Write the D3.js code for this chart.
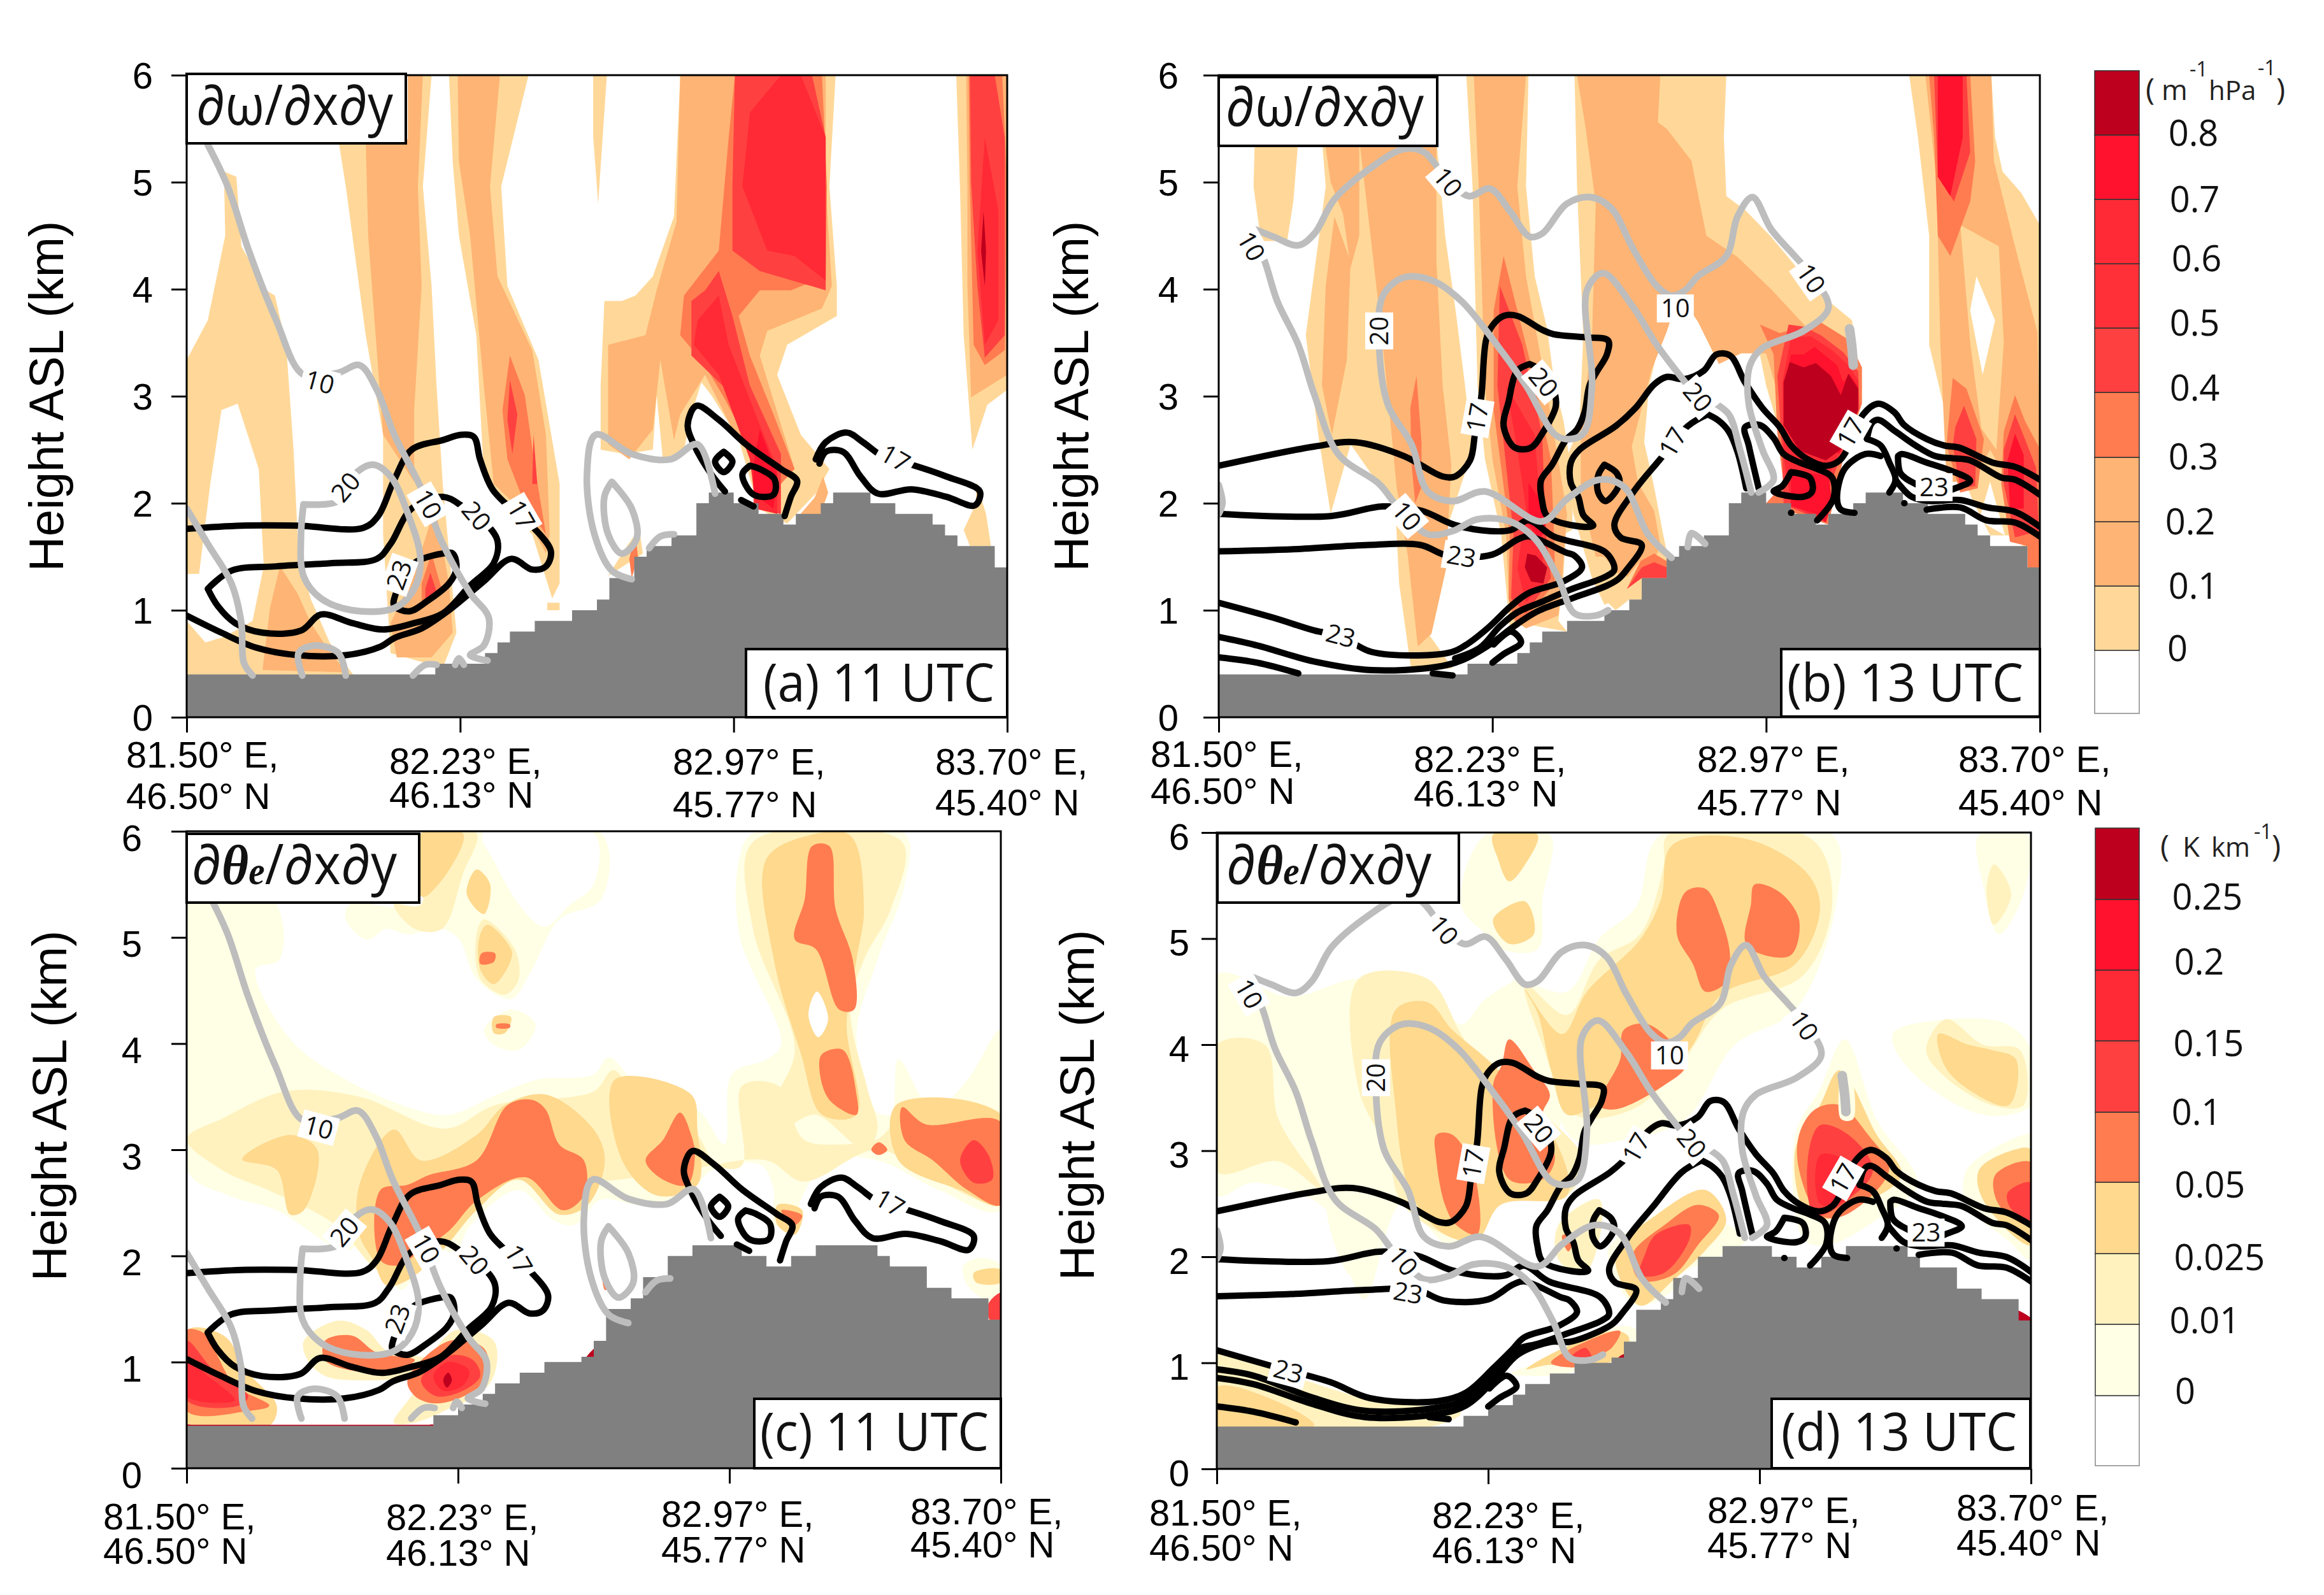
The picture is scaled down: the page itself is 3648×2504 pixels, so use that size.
<!DOCTYPE html>
<html>
<head>
<meta charset="utf-8">
<script src="https://cdn.jsdelivr.net/npm/d3@7"></script>
<style>
body { margin: 0; background: #fff; }
</style>
</head>
<body>
<svg id="chart" width="3648" height="2504"></svg>
<script>
// x unit is the grid column along the cross-section (0..66), y is height in km
const xTickCols = [0, 22, 44, 66];
const xTickLon = ["81.50\u00b0 E,", "82.23\u00b0 E,", "82.97\u00b0 E,", "83.70\u00b0 E,"];
const xTickLat = ["46.50\u00b0 N", "46.13\u00b0 N", "45.77\u00b0 N", "45.40\u00b0 N"];
const yTicks = [0, 1, 2, 3, 4, 5, 6];

const terrainUpper = [.4,.4,.4,.4,.4,.4,.4,.4,.4,.4,.4,.4,.4,.4,.4,.4,.4,.4,.4,.4,.5,.5,.5,.5,.6,.7,.8,.8,.9,.9,.9,1,1,1.1,1.3,1.3,1.5,1.6,1.6,1.7,1.7,2,2.1,2.1,2,2,1.9,1.9,1.8,1.9,1.9,2,2.1,2.1,2.1,2,2,1.9,1.9,1.9,1.8,1.7,1.6,1.6,1.6,1.4];
const terrainLower = [.4,.4,.4,.4,.4,.4,.4,.4,.4,.4,.4,.4,.4,.4,.4,.4,.4,.4,.4,.4,.5,.5,.6,.6,.7,.8,.8,.9,.9,1,1,1,1.05,1.2,1.5,1.5,1.6,1.8,1.8,2,2,2.1,2.1,2.1,2.1,2,2,1.9,1.9,2,2,2.1,2.1,2.1,2.1,2.1,2,1.9,1.9,1.9,1.7,1.7,1.6,1.6,1.6,1.4];

const omegaLevels = [0, .1, .2, .3, .4, .5, .6, .7, .8];
const omegaColors = ["#ffffff", "#ffd899", "#feb474", "#feb474", "#ff7c50", "#ff4040", "#ff3038", "#ff2a35", "#ff122d", "#bd001e"];
const omegaLabels = ["0", "0.1", "0.2", "0.3", "0.4", "0.5", "0.6", "0.7", "0.8"];
const thetaLevels = [0, .01, .025, .05, .1, .15, .2, .25];
const thetaColors = ["#ffffff", "#ffffe5", "#fff2bf", "#fed98e", "#ff7c50", "#ff4040", "#ff2a35", "#ff122d", "#bd001e"];
const thetaLabels = ["0", "0.01", "0.025", "0.05", "0.1", "0.15", "0.2", "0.25"];

// filled regions: [lower bound of the class, outline]; -1 paints a hole
const omega11Fill = [
  [0, [[0,3.34],[1.7,3.71],[3.1,4.5],[3,5.1],[4,5.05],[4.4,4.4],[6.4,3.99],[7.1,3.94],[8,3.48],[8.6,2.5],[9,1.5],[10,1.1],[11.5,.7],[14,.3],[0,.3]]],
  [-1, [[0,1.34],[1,1.34],[1.9,2.18],[2.8,2.87],[4.1,2.93],[5.8,2.32],[6.2,1.41],[5.3,.9],[3,.75],[1.5,.7],[0,.9]]],
  [.1, [[7.5,1.41],[8.9,1.16],[10,.88],[11,.7],[12.8,.42],[6.1,.44],[6.7,1.02]]],
  [0, [[17.8,6],[19.7,6],[19,4.96],[19.7,4.03],[20.1,3.1],[20.6,2.18],[21.7,.79],[20.6,.46],[16.4,.6],[15.8,1.71],[15.8,2.64],[14.4,3.57],[12.8,4.96],[12.2,5.4],[17.8,5.4]]],
  [.1, [[14.4,5.4],[17.8,5.4],[17.8,6],[19,6],[18.6,4.96],[18.9,4.03],[18.3,2.87],[18.3,2.2],[15.8,2.64],[15.2,3.57],[14.6,4.5]]],
  [.1, [[20,1.97],[21.1,1.25],[21.4,.79],[19.7,.56],[16.9,.56],[16.4,.88],[18.3,1.34]]],
  [.3, [[19.7,1.53],[20.6,1.16],[18.9,1.02],[18.9,1.25]]],
  [.4, [[19.6,1.35],[20.2,1.14],[19.2,1.06],[19.2,1.2]]],
  [0, [[21.1,6],[27.5,6],[25.3,4.96],[25.8,4.03],[28.3,3.34],[30,2.18],[30,1.25],[29.4,1.11],[27.8,1.71],[25.6,1.95],[23.9,2.27],[23.3,3.57],[21.9,4.5],[21.4,5.19]]],
  [.1, [[21.8,6],[25.2,6],[24.4,4.96],[25,4.12],[27.8,3.43],[28.9,2.64],[29.2,1.71],[28.9,1.53],[27.2,1.9],[24.7,2.18],[23.9,3.1],[22.8,4.5],[21.9,5.19]]],
  [.3, [[26,3.38],[27.2,3.01],[28.1,2.27],[28.9,1.71],[27.2,1.99],[25.8,2.41],[25.4,2.87]]],
  [.4, [[26,3.15],[26.6,2.83],[26.2,2.46],[25.8,2.78]]],
  [.4, [[27.9,2.64],[28.2,2.18],[27.8,2.18]]],
  [0, [[29,1.07],[30,1.07],[30,1],[29,1]]],
  [0, [[32.7,6],[33.8,6],[33.1,4.8],[32.7,5.42]]],
  [0, [[39.7,6],[52.2,6],[51.7,4.96],[52.3,4.03],[52.3,3.75],[48.3,3.48],[47.5,3.2],[49.4,2.64],[51.7,2.32],[50.6,2.09],[48.3,1.81],[46,1.95],[44.4,2.6],[42.2,3.01],[41.4,3.13],[40.6,2.83],[40,2.5],[38.3,2.41],[37.8,3.01],[37.5,2.5],[35.3,2.46],[33.3,2.5],[33.3,3.1],[33.6,3.89],[35,3.89],[36.1,3.94],[37.5,4.12],[39.2,4.68]]],
  [.1, [[39.7,6],[51.4,6],[51.4,4.96],[51.9,4.03],[51.1,3.82],[46.7,3.61],[46.1,3.38],[48.9,2.32],[46.1,2.32],[43.9,2.69],[41.7,3.2],[39.7,2.83],[39.2,2.59],[38.1,3.34],[37.5,2.69],[35.6,2.41],[33.9,2.55],[33.9,3.48],[36.9,3.57],[37.8,3.99],[39.4,4.63]]],
  [.3, [[44.1,6],[51.1,6],[51.5,4.96],[51.4,4.12],[48.6,3.99],[46.1,3.99],[44.4,3.75],[45.3,3.38],[47.2,2.83],[48.9,2.32],[47.8,2.18],[45.6,2.46],[43.3,2.97],[41.7,3.29],[39.7,3.57],[40,3.94],[42.8,4.36],[43.6,5.42]]],
  [.4, [[44.1,6],[50.3,6],[51.4,5.42],[51.4,3.99],[46.1,4.17],[43.9,4.36],[43.9,4.96]]],
  [.6, [[45.3,5.65],[47.8,6],[49.4,6],[51.4,5.42],[51.4,4.08],[48.9,4.31],[46.7,4.36],[44.7,4.96]]],
  [.4, [[42.8,4.17],[43.9,3.75],[45.3,3.1],[47.8,2.46],[47.8,1.9],[45.6,1.95],[45.6,2.5],[43.9,3.01],[40.6,3.38],[40.6,3.89],[41.7,3.99]]],
  [.6, [[42.8,3.94],[43.6,3.48],[46.1,2.73],[47.5,2.32],[47.5,1.9],[45.8,1.95],[45.3,2.41],[42.8,3.2],[40.8,3.48],[41.1,3.71]]],
  [.7, [[46.1,2.69],[47.5,2.27],[47.2,1.95],[45.6,2.09],[45.6,2.36]]],
  [.1, [[49,1.85],[50.5,2.05],[51.2,2.25],[51.6,2.1],[51,1.9]]],
  [0, [[33.9,1.32],[35.3,1.58],[36.4,1.76],[36.7,1.53]]],
  [.3, [[35.6,1.48],[36.1,1.71],[36.3,1.5],[35.8,1.3]]],
  [0, [[61.9,6],[66,6],[66,3.06],[64.4,2.92],[63.2,2.5],[62.5,3.57],[62.2,4.96]]],
  [.1, [[62.7,6],[66,6],[66,3.2],[63.1,2.99],[62.8,4.03],[62.8,4.96]]],
  [.3, [[62.9,6],[65.6,6],[66,4.96],[65.8,3.43],[64.2,3.29],[63.3,3.48],[63,4.96]]],
  [.4, [[63,6],[65,6],[65.8,5.42],[65.8,3.57],[64.2,3.36],[63.6,4.03],[63.1,5]]],
  [.6, [[64.2,5.42],[65.3,4.73],[65.3,3.71],[64.2,3.48],[63.6,4.36]]],
  [.8, [[64.1,4.73],[64.3,4.36],[64.2,4.03],[63.9,4.36]]],
  [0, [[63.5,2.2],[64.3,1.9],[64.7,1.6],[63,1.6],[62.5,1.75],[63.5,2]]]
];

const omega13Fill = [
  [0, [[2.9,5.4],[6.4,5.4],[6,4.82],[5.5,4.45],[3.4,4.45],[2.8,4.96]]],
  [0, [[8.3,5.4],[17.5,5.4],[18.2,4.5],[19.1,3.75],[19.8,3.1],[20.4,2.5],[18.2,1.71],[16.8,.79],[18.8,.46],[15.5,.42],[14.5,1.25],[14.2,1.95],[10.6,2.55],[9,1.9],[8,2.64],[7,3.57],[8.6,4.96]]],
  [.1, [[11.3,5.4],[17.5,5.4],[17.5,4.26],[18,3.1],[18.7,2.36],[18.5,1.93],[18.3,1.4],[17.1,.78],[16,.66],[15.2,1.51],[14.3,2.15],[13.6,3],[13,3.7],[12.2,4.5]]],
  [.1, [[8.5,5.4],[11.3,5.4],[11.3,4.5],[10.6,4.2],[10,4.7],[9,5]]],
  [.1, [[9.3,4.68],[10.6,4.26],[10.3,3.34],[9.1,2.64],[8.3,3.1],[8.6,4.03]]],
  [.3, [[15.9,3.19],[16.3,2.57],[16.3,2.15],[15.8,2],[15.5,2.36],[15.4,2.89]]],
  [0, [[19.9,6],[24.9,6],[24.7,4.96],[25.4,4.12],[26.4,3.63],[27,3.1],[27.7,2.78],[28.5,2.2],[28.4,1.75],[27.9,1.72],[27.7,1.3],[27.3,.9],[28,.8],[24.6,.87],[23.4,.83],[22.7,1.71],[21.4,2.41],[20.8,3.1],[20.4,4.96]]],
  [.1, [[20.5,6],[24.7,6],[24,4.96],[24.7,4.12],[26.3,3.1],[28,1.9],[27.6,1.3],[27.3,.95],[24.7,.83],[23.4,.93],[23.1,1.71],[22,2.41],[21.4,3.1],[20.9,4.96]]],
  [.3, [[22.9,4.31],[23.7,3.94],[25,3.34],[26.7,2.41],[27,1.58],[27,1.25],[24,.83],[23.3,1.11],[23.4,1.71],[22.1,2.87],[22.1,3.8]]],
  [.4, [[22.6,4.03],[24.4,3.48],[26,2.64],[26.3,1.71],[26.7,1.3],[24.7,.97],[23.5,1.11],[23.7,1.71],[22.4,3.1]]],
  [.6, [[23.1,3.1],[25.4,2.64],[26,1.71],[26.1,1.25],[24.7,1.07],[24,1.39],[24.7,1.95],[24,2.5]]],
  [.7, [[24.9,2.19],[26.4,1.93],[26.2,1.72],[25.7,1.68],[24.9,1.8]]],
  [.8, [[24.8,1.53],[25.5,1.51],[26.4,1.4],[26.1,1.25],[25.1,1.27],[24.6,1.4]]],
  [0, [[28.6,6],[40.8,6],[40.6,5.42],[40.8,4.87],[42.4,4.73],[44.4,4.49],[46.7,4.17],[49,3.89],[50.9,3.71],[51.7,3.1],[51,2.6],[49,2.2],[46,2.3],[44,3.1],[43.3,3.5],[42,3.6],[40.4,3.61],[38.5,3.94],[37,4.2],[36.8,4.4],[36.5,3.85],[35.7,3.63],[34.6,3.1],[34.2,2.57],[35,2.15],[35.7,1.72],[36.1,1.5],[34.5,1.1],[32,1.1],[31,1.05],[30,1.3],[28.5,1.9],[27.9,2.4],[29,2.73],[29.3,3.57],[28.8,4.96]]],
  [.1, [[28.8,6],[35.5,6],[35.3,5.56],[36,5.5],[38,5.2],[38.5,4.9],[39.2,4.5],[41.7,4.3],[44.4,4],[46,3.8],[48,3.55],[50,3.5],[51,3],[50.5,2.6],[46,2.6],[44,3.4],[42,3.4],[40.2,3.3],[38.5,3.7],[37,3.95],[36,3.6],[34.8,3.25],[33.2,2.53],[33.7,2.19],[35,1.93],[35.5,1.61],[34.3,1.25],[32,1.35],[31,1.5],[30.3,1.5],[29.1,2.1],[29.1,2.7],[30,3.5],[30.3,4.8],[29.5,5.5]]],
  [0, [[31.2,1.08],[33.9,1.46],[36.1,1.5],[36,1.3],[33,1.1],[31.9,1]]],
  [.3, [[33.9,1.46],[35,1.53],[36,1.46],[36,1.3],[34,1.3],[32.8,1.2]]],
  [.4, [[34,1.4],[35,1.45],[36,1.4],[36,1.3],[34,1.3],[32.8,1.2]]],
  [.3, [[43.5,3.67],[45.1,3.59],[48.4,3.69],[50.6,3.53],[51.7,3.27],[51.7,2.93],[50.2,2.42],[49,1.8],[44,2],[45.4,2.18],[44.9,2.65],[44.6,3.39]]],
  [.4, [[45.8,3.67],[47,3.65],[48.4,3.57],[50.2,3.41],[51.4,3.23],[51.5,2.89],[50,2.44],[49.2,2.18],[48.8,1.82],[45.4,1.99],[45.3,2.45],[44.9,3.19]]],
  [.6, [[46,3.55],[47.6,3.56],[49.3,3.43],[50.6,3.29],[51.4,3.15],[51.4,2.87],[49.2,2.3],[48.8,1.82],[46,1.99],[45.4,2.44],[45.3,3.13]]],
  [.7, [[46,3.39],[47,3.39],[47.9,3.46],[49.7,3.29],[50.2,3.13],[50.7,3.21],[51.4,3.09],[51.4,2.87],[49.9,2.46],[45.4,2.73],[45.5,3.13]]],
  [.8, [[45.9,3.32],[47,3.27],[48,3.31],[49.2,3.19],[50,3.01],[50.6,3.21],[51.4,3.07],[51.4,2.87],[50.2,2.52],[48.8,2.4],[46.7,2.49],[45.4,2.73],[45.4,3.13]]],
  [.7, [[46,2.3],[49,2.26],[49.3,2.02],[48.8,1.82],[48.1,1.9],[46,1.97]]],
  [0, [[55.5,6],[66,6],[66,1.39],[64,1.7],[62,1.7],[60.7,2],[59.4,2.36],[57.1,3.48],[57.1,4.5],[56.2,5.42]]],
  [-1, [[62.1,6],[62.4,5.42],[63,5.1],[64.5,4.9],[66,4.6],[66,6]]],
  [.1, [[56.8,6],[62.1,6],[62.3,5.2],[64,4.4],[65.8,3.6],[66,2.5],[66,1.6],[65.5,1.6],[64,1.75],[63.5,2.2],[62,2.5],[60.5,2.2],[58.5,2.2],[58,3.5],[57.7,5]]],
  [0, [[59.6,4.6],[62.7,4.4],[63.1,3.5],[62.5,2.5],[61.3,2.7],[60.4,3.5]]],
  [-1, [[60.9,4.12],[62.4,3.71],[61.4,3.2],[60.4,3.8]]],
  [-1, [[62,2.2],[63.2,1.7],[61.1,1.84]]],
  [.3, [[57.1,6],[60.4,6],[60.8,5.19],[60.4,4.82],[59.4,4.5],[58.8,4.31],[57.8,4.5],[57.5,5.42]]],
  [.4, [[57.5,6],[60.1,6],[60.4,5.28],[59.1,4.82],[57.8,5.05]]],
  [.7, [[57.8,6],[59.8,6],[59.8,5.42],[58.8,4.87],[57.8,5.05]]],
  [.3, [[59,3.17],[60.1,3.07],[61.5,2.6],[61,2.14],[59.6,2.1],[58.5,2.54],[58.8,2.93]]],
  [.4, [[59.9,2.91],[60.9,2.6],[60.8,2.16],[59.6,2.14],[59,2.54],[59.2,2.71]]],
  [.3, [[64,3.01],[64.8,2.77],[65.9,2.53],[66,1.39],[65,1.4],[65,1.6],[63.6,1.64],[62.9,2.18],[63.1,2.67]]],
  [.4, [[64,2.83],[64.8,2.6],[65.7,2.33],[65.9,1.74],[64,1.68],[63.1,2.18],[63.1,2.5]]],
  [.7, [[64,2.65],[64.7,2.45],[64.7,1.95],[63.6,1.95],[63.4,2.4]]]
];

const theta11Fill = [
  [0, [[0,5.98],[7.3,5.31],[7.5,4.79],[5.6,4.7],[8.4,4.04],[12.9,3.66],[18.5,3.38],[21.3,3.33],[25.2,3.52],[28.4,3.66],[33,3.71],[34.2,3.87],[36.9,3.57],[41.4,3.38],[43.6,3.05],[44.2,3.71],[47,3.85],[48.2,3.99],[44.8,5.03],[44.8,5.74],[45.9,5.98],[58.2,5.98],[58.2,5.5],[56,4.79],[54.3,4.09],[55.7,3.38],[57.1,3.33],[57.7,3.85],[60.5,3.38],[63.3,3.66],[66,4.13],[66,2.43],[61,2.62],[56,2.9],[52,2.9],[49.8,2.53],[49.3,2.34],[47.6,2.29],[47.6,2.62],[46.5,2.86],[42.6,2.81],[40.9,2.62],[37,2.48],[33.6,2.53],[31.4,2.29],[29.7,2.34],[26.9,2.62],[23,2.29],[21.8,2.05],[19.6,2.05],[17.4,1.68],[14.6,2.15],[12.9,2.05],[7.3,2.43],[3.4,2.57],[0,2.81]]],
  [.01, [[0,3.1],[3,3.3],[8,3.55],[14,3.5],[21,3.2],[25,3.42],[33,3.55],[34.6,3.75],[37,3.4],[41,3.2],[43,2.85],[45,2.85],[45,3.6],[48,3.6],[50,3.1],[53,3.05],[56,3.1],[58,3.3],[60,3.2],[66,3.35],[66,2.5],[61,2.7],[56,3],[50,2.7],[47,2.9],[40,2.8],[33,2.7],[27,2.75],[19,2.2],[16,1.85],[12,2.3],[7,2.6],[3,2.8]]],
  [.025, [[4.5,2.91],[8.4,3.14],[10.6,3],[9.5,2.43],[8.4,2.39],[7.3,2.81]]],
  [.025, [[14,2.2],[14,2.67],[16.8,3.19],[19,2.9],[23.5,3.14],[25.8,3.42],[29.1,3.52],[33,3.19],[33.9,2.9],[32.5,2.48],[30.2,2.39],[26.9,2.72],[23.5,2.43],[20.7,2.05],[17.9,1.77],[16.2,1.72],[15.1,1.96]]],
  [.05, [[19.6,2.76],[23.5,2.9],[26,3.42],[28,3.47],[29.1,3.38],[30.2,3.05],[32.2,2.9],[32.2,2.57],[30.5,2.43],[27.5,2.74],[23.5,2.52],[21.3,2.24],[19,2.05],[17.1,1.91],[15.7,1.96],[15.7,2.62],[17.9,2.67]]],
  [.025, [[34.7,3.66],[40.9,3.52],[41.4,3.19],[41.4,2.67],[38.1,2.57],[35.3,2.9]]],
  [.05, [[40,3.35],[40.9,3.14],[41.2,2.95],[40.6,2.67],[38.6,2.72],[37.2,2.9],[38.6,3.09]]],
  [0, [[13.2,5.31],[19,5.31],[19,5.98],[33.6,5.98],[33.6,5.36],[30.2,5.17],[28,4.7],[26.3,4.42],[23.5,4.61],[22.1,4.98],[20.7,5.08],[17.9,5.03],[16.2,5.08],[14.6,4.98],[12.9,5.17]]],
  [-1, [[24,5.98],[33,5.98],[33,5.5],[31,5.3],[29,5.1],[27,5.3],[25,5.7]]],
  [.01, [[19,5.98],[23.5,5.98],[22.4,5.6],[20.7,5.08],[18.5,5.08],[16.8,5.31],[19,5.31]]],
  [.025, [[19,5.98],[22.4,5.98],[21.3,5.64],[19.1,5.38]]],
  [.025, [[23.5,5.64],[24.6,5.5],[24.1,5.22],[22.7,5.41]]],
  [.01, [[24.1,5.17],[26.6,4.89],[26.9,4.6],[25.8,4.46],[23.8,4.61],[23.5,5.03]]],
  [.025, [[24.4,5.12],[26.3,4.89],[26.3,4.79],[24.9,4.56],[23.8,4.7],[23.8,5.03]]],
  [.05, [[23.9,4.85],[25,4.85],[24.9,4.77],[23.8,4.75]]],
  [0, [[24.1,4.13],[26.3,4.32],[28.3,4.18],[26.9,3.94],[24.9,3.99]]],
  [.025, [[24.9,4.25],[26.3,4.25],[25.8,4.1],[24.9,4.1]]],
  [.05, [[25.1,4.18],[26.2,4.18],[26.2,4.15],[25.1,4.15]]],
  [.01, [[45.9,5.9],[58,5.9],[57.1,5.27],[54.9,4.79],[53.8,4.32],[55.2,3.57],[56,3.19],[55,3],[51,3.33],[48.7,3.24],[47.6,3.4],[49.3,3.94],[45.9,5.08]]],
  [.025, [[47,5.74],[50.4,5.96],[53.8,5.96],[54.9,5.27],[54.3,4.79],[53.5,4.18],[54.3,3.33],[51.5,3.33],[49.8,3.9],[47.6,4.79]]],
  [.05, [[50.7,5.86],[52.1,5.86],[52.6,5.27],[54,4.79],[54.1,4.32],[52.9,4.32],[51,4.89],[49.3,4.98],[50.1,5.36]]],
  [.05, [[51.5,3.9],[53.2,3.94],[54.3,3.52],[54.3,3.33],[52.1,3.47],[51.3,3.75]]],
  [-1, [[51.1,4.49],[52,4.23],[51.2,4.06],[50.4,4.27]]],
  [.025, [[57.5,3.42],[66,3.33],[66,2.48],[62.7,2.62],[57.7,2.9]]],
  [.05, [[58,3.4],[59.9,3.24],[66,3.26],[66,2.48],[63.3,2.62],[60.5,2.9],[58.2,3.09]]],
  [.1, [[63.8,3.09],[65,2.95],[65.3,2.72],[63.8,2.69],[62.7,2.9]]],
  [.05, [[56.1,3.07],[56.8,3],[56.1,2.95],[55.5,3]]],
  [.025, [[47.9,2.48],[49.9,2.43],[49.3,2.2],[47.9,2.29]]],
  [.05, [[48.2,2.43],[49.9,2.38],[49.3,2.29]]],
  [0, [[63,1.91],[64.4,1.98],[66,1.91],[66,1.53],[63.3,1.72]]],
  [.025, [[63.8,1.84],[66,1.87],[66,1.75],[64,1.75]]],
  [.1, [[65,1.55],[66,1.65],[66,1.4],[65.1,1.4]]],
  [.025, [[0,1.3],[3,1.25],[5,.9],[7.3,.59],[6.7,.4],[0,.4]]],
  [.05, [[0,1.3],[1.7,1.25],[2.5,1.06],[3.9,.78],[6.7,.59],[5,.54],[0,.54]]],
  [.1, [[0,1.2],[2.2,.92],[5,.68],[4.2,.59],[0,.64]]],
  [.15, [[0,1.01],[1.7,.87],[3.9,.64],[0,.68]]],
  [.01, [[9.5,1.2],[12.3,1.39],[14.6,1.3],[16.2,1.11],[19.6,1.02],[17.9,.87],[13.4,.83],[11.2,.87],[9.8,1.02]]],
  [.05, [[11.2,1.2],[13.4,1.25],[15.4,1.09],[18.5,1.02],[16.8,.92],[13.4,.92],[11.2,1.02]]],
  [.01, [[21.8,1.3],[24.9,1.2],[24.9,.87],[23.5,.68],[21.8,.59],[18.5,.43],[16.8,.43],[18.5,.73],[19.6,1.02]]],
  [.05, [[21.3,1.2],[24.1,1.13],[24.4,.87],[23,.71],[20.2,.61],[18.5,.68],[17.9,.83]]],
  [.1, [[21.3,1.06],[23.2,1.02],[23.8,.87],[22.4,.73],[20.2,.68],[19,.83]]],
  [.15, [[21.2,1],[22.9,.92],[22.4,.78],[20.8,.73],[20,.87]]],
  [.25, [[21.2,.9],[21.5,.83],[21.1,.76],[20.8,.83]]],
  [.25, [[32.2,1],[33.9,1.2],[33.9,1]]],
  [.25, [[0,.41],[.5,.41],[19.5,.41],[20,.41],[20,.39],[19.5,.39],[.5,.39],[0,.39]]],
  [.05, [[33.7,1.84],[34.3,1.7],[33.9,1.68]]]
];

const theta13Fill = [
  [0, [[0,4.66],[5.9,4.45],[11.2,4.62],[17.1,4.57],[19.8,4.19],[21.8,4.43],[24.8,4.6],[26,4.2],[28,3.4],[26,2.75],[22,2.45],[19,2.1],[15,2.5],[12,1.6],[10.8,1.83],[8.9,2.44],[3,2.7],[0,2.58]]],
  [.01, [[0,4],[3.9,4],[5,3.3],[8.5,2.63],[5,2.9],[0,2.8]]],
  [0, [[21.8,5.98],[27,5.98],[26.4,5.37],[26,4.9],[23.1,4.9],[21.8,5.04],[19.8,5.32]]],
  [.025, [[22.4,5.98],[26,5.98],[25,5.7],[23.7,5.54],[22.8,5.75]]],
  [.025, [[22.4,5.18],[25,5.35],[25.7,5.04],[23.7,4.95]]],
  [0, [[36,5.98],[49.9,5.98],[50.2,5.32],[46.9,4.33],[42,4],[38,3.3],[33,3.1],[29,3.1],[26,4],[24,4.6],[28.4,4.5],[31,5],[34,5.3]]],
  [.01, [[36.6,5.98],[48.2,5.94],[49.9,5.37],[47.6,4.66],[40.9,4.33],[37.6,3.81],[33.7,3.39],[29,3.34],[26.4,4],[25,4.57],[28.4,4.28],[31,4.8],[34.3,5.04],[36.2,5.67]]],
  [.025, [[36.9,5.88],[42.9,5.94],[47.9,5.61],[48.9,5.28],[46.9,4.76],[40.9,4.47],[38.3,3.95],[33.7,3.48],[31,3.43],[28.4,3.34],[27.1,3.76],[26,4.3],[25,4.52],[28,4.1],[30,4.5],[34.3,4.99],[36,5.37]]],
  [.05, [[38,5.44],[39.6,5.47],[40.9,5.18],[41.6,4.85],[41.3,4.59],[39.6,4.5],[38.6,4.76],[37.3,5.04]]],
  [.05, [[43.6,5.51],[45.6,5.44],[47.2,5.18],[46.6,4.85],[44.9,4.83],[42.9,4.95],[43.3,5.32]]],
  [.05, [[33,4.14],[35,4.19],[38,3.81],[36.3,3.62],[32.3,3.39],[31,3.43],[32.7,3.86]]],
  [.01, [[11.5,4.62],[17.1,4.62],[19.8,4.1],[22,3.7],[27,3.29],[29.7,2.91],[28.4,2.58],[23,2.49],[20.4,2.16],[15.1,2.49],[13.8,3.01],[11.5,3.58]]],
  [.025, [[14.5,4.33],[17.1,4.4],[19.1,4.14],[22.4,3.81],[27,3.2],[28.4,2.58],[23,2.49],[21.1,2.16],[18.5,2.21],[15.8,2.58],[14.5,3.39]]],
  [.05, [[17.8,3.15],[19.1,3.15],[20.8,2.82],[21.1,2.21],[19.4,2.3],[18.5,2.49],[17.8,2.91]]],
  [.05, [[23.7,4.05],[25.7,3.76],[27,3.53],[26.4,3.34],[27.4,2.91],[26.4,2.73],[23.7,2.73],[22.4,3.62],[23.1,3.81]]],
  [0, [[39,2.58],[40.9,2.35],[42.9,2.16],[37.6,1.83],[37,1.69],[34,1.54],[31.7,2.06],[34.3,2.3]]],
  [.025, [[39.6,2.63],[41.3,2.35],[39.6,2.06],[37,1.78],[34.3,1.54],[32.3,2.02],[35.6,2.39]]],
  [.05, [[39,2.49],[40.7,2.39],[39,2.11],[37,1.83],[34.3,1.78],[33.7,2.02],[36.3,2.3]]],
  [.1, [[35.6,2.21],[38.3,2.3],[38.3,2.16],[36.3,1.85],[34.3,1.83],[34.7,2.02]]],
  [0, [[50.9,4.05],[53.5,3.29],[56.8,2.68],[53.5,2.35],[49.5,2.11],[47.6,2.16],[46.9,3.15],[48.9,3.58]]],
  [.025, [[50.5,3.76],[53.5,3.15],[55.5,2.77],[52.2,2.49],[48.9,2.35],[47.6,2.44],[46.9,3.01],[48.9,3.43]]],
  [.05, [[50.5,3.43],[52.8,3.15],[54.5,2.82],[50.9,2.39],[48.9,2.39],[47.2,2.82],[47.2,3.15],[48.5,3.39]]],
  [.1, [[48.9,3.24],[51.2,3.15],[53.2,2.82],[51.2,2.54],[48.5,2.39],[47.9,2.91]]],
  [.15, [[48.9,2.96],[50.9,2.91],[51.9,2.68],[50.5,2.5],[48.9,2.5]]],
  [0, [[54.8,4.1],[59.5,4.24],[64.1,4.19],[66,3.95],[66,3.43],[62.1,3.34],[56.2,3.76]]],
  [.01, [[57.5,3.95],[59.1,4.24],[62.1,4],[65.1,3.95],[65.4,3.43],[62.8,3.43],[58.8,3.72]]],
  [.025, [[58.5,4.1],[60.9,4],[62.8,3.95],[64.8,3.86],[64.2,3.43],[60.9,3.58],[59,3.8]]],
  [0, [[61.8,5.98],[65.7,5.98],[65.4,5.42],[63.4,5.04],[62.1,5.51]]],
  [.01, [[63,5.7],[64.4,5.42],[63,5.13],[62.4,5.46]]],
  [0, [[60.8,2.82],[65.4,3.15],[66,3.15],[66,1.97],[64.1,2.16],[60.8,2.49]]],
  [.025, [[61.8,2.82],[64.7,3.01],[66,3.01],[66,2.11],[62.1,2.54]]],
  [.05, [[63.1,2.77],[66,2.89],[66,2.3],[63.4,2.49]]],
  [.1, [[64.1,2.6],[66,2.7],[66,2.35],[64.4,2.45]]],
  [.01, [[0,1.07],[5.9,.88],[12.5,.65],[19.8,.53],[17.8,.41],[0,.41]]],
  [.025, [[0,.77],[4.6,.65],[7.9,.41],[0,.41]]],
  [0, [[23.9,.9],[27.1,1.04],[32.4,1.34],[33.9,1.32],[33.9,1.18],[32.9,1.04],[29.1,.92],[26.9,.88]]],
  [.025, [[25.1,.94],[28.5,1.16],[32.4,1.3],[33.4,1.24],[32.9,1.06],[29.1,.96],[26.9,.98]]],
  [.05, [[27.1,1],[28.8,1.14],[32.7,1.3],[32,1.14],[30.4,1.04],[29.1,.96]]],
  [.1, [[28.8,1.06],[29.9,1.14],[30.4,1.04],[29.9,1.02]]],
  [.25, [[32.5,1.04],[33,1.08],[33,1.03]]],
  [.25, [[33.5,1.12],[33.9,1.18],[33.9,1.1]]],
  [.01, [[27.7,2.3],[31,2.54],[31,2.16],[29.7,1.83],[27.7,1.97]]],
  [.05, [[28,2.2],[29,2.2],[28.5,2.05]]],
  [0, [[10,3.08],[11.5,2.49],[10.8,1.83],[8.9,2.44]]],
  [0, [[51,4.05],[51.6,3.3],[50.6,3.3]]],
  [.25, [[64.7,1.5],[66,1.42],[66,1.4],[65,1.4]]]
];

// isotach lines, black then grey, shared by the two panels of the same hour
const black11 = [
  [[0,1.76],[4.4,1.79],[8.9,1.79],[14.2,1.77],[15.4,1.88],[16.7,2.22],[18.1,2.5],[20.6,2.59],[22.1,2.64],[23.1,2.62],[23.6,2.41],[24.6,2.13],[26.4,1.92],[28,1.76],[29.3,1.55],[28.9,1.41],[27.8,1.38],[26.1,1.48],[23.9,1.27],[21.1,1],[18.9,.83],[16.7,.74],[15.6,.66],[12.8,.58],[8.9,.58],[5.6,.65],[2.8,.79],[0,.95]],
  [[1.7,1.2],[3.6,1.37],[7.2,1.41],[11.7,1.44],[15.3,1.48],[16.4,1.62],[18.1,1.95],[20.6,2.06],[22.2,1.97],[23.9,1.83],[25,1.65],[24.7,1.44],[22.8,1.23],[20.6,.97],[18.3,.88],[15.8,.82],[13.3,.88],[10.8,.96],[9.2,.81],[6.1,.79],[3.9,.88],[2.5,1.04],[1.7,1.2]],
  [[20.6,1.53],[18.3,1.44],[16.7,1.11],[16.7,1.04],[17.9,.99],[19.4,1.09],[21.1,1.25],[21.7,1.39],[21.4,1.53],[20.6,1.53]],
  [[48.1,1.88],[48.6,2.06],[49.1,2.21],[47.8,2.32],[45,2.55],[42.8,2.78],[41,2.91],[40.3,2.73],[40.8,2.55],[42.2,2.27],[43.3,2.11]],
  [[44.6,2.03],[45.1,2],[45.6,1.97]],
  [[43.2,2.48],[42.5,2.39],[43.2,2.29],[43.9,2.39],[43.2,2.48]],
  [[45.3,2.35],[44.7,2.27],[45.6,2.08],[47.2,2.08],[47.3,2.22],[46.1,2.32],[45.3,2.35]],
  [[50.6,2.41],[51.4,2.57],[53.1,2.66],[54.4,2.57],[56.1,2.43],[58.3,2.36],[61.1,2.25],[63.8,2.11],[63.4,1.98],[61.1,2.06],[58.3,2.13],[55.6,2.09],[54.2,2.25],[52.8,2.48],[51.4,2.48],[50.9,2.37]]
];
const grey11 = [
  [[1.7,5.35],[3.3,4.96],[5,4.36],[7.2,3.71],[9.4,3.2],[12.2,3.22],[13.9,3.29],[15.3,3.06],[16.7,2.64],[18.9,2.13],[20.6,1.62],[22.8,1.16],[24.3,.93],[23.9,.67],[22.8,.58],[24.2,.53]],
  [[0,1.95],[1.7,1.62],[3.6,1.25],[4.4,.88],[4.6,.51],[5.3,.39]],
  [[9.4,1.99],[12.2,2.02],[13.6,2.28],[15,2.36],[16.4,2.25],[17.8,1.9],[18.8,1.48],[18.3,1.2],[16.7,1.02],[13.3,1],[10.8,1.11],[9.4,1.32],[9.2,1.71],[9.4,1.99]],
  [[9.3,.39],[9,.6],[10.3,.67],[12.2,.6],[12.8,.39]],
  [[18.2,.39],[19.2,.49],[20.1,.49]],
  [[21.6,.49],[21.9,.55],[22.3,.49]],
  [[42.5,2.09],[41.1,2.55],[38.9,2.41],[35.8,2.46],[32.9,2.64],[32.2,2.27],[32.8,1.71],[34.2,1.37],[35.8,1.29]],
  [[34.2,2.2],[33.6,2.06],[33.9,1.71],[35,1.53],[36.2,1.67],[35.8,1.95],[34.2,2.2]],
  [[37.2,1.58],[38.1,1.69],[39.2,1.71]]
];
const labels11 = [
  ["10", 10.7, 3.13, 15], ["17", 57, 2.42, 30], ["20", 12.8, 2.15, -50], ["10", 19.4, 1.99, 60],
  ["20", 23.3, 1.88, 50], ["17", 26.9, 1.89, 60], ["23", 17.1, 1.33, -70]
];

const black13 = [
  [[0,2.35],[7.7,2.53],[11,2.57],[14.9,2.44],[18,2.25],[19,2.25],[20.2,2.4],[20.6,2.65],[21.1,2.99],[21.5,3.53],[22,3.66],[22.9,3.75],[24,3.75],[26,3.62],[26.9,3.58],[29.5,3.55],[31.3,3.52],[31.2,3.39],[30.4,3.23],[29.8,3.1],[29.4,2.85],[28.8,2.69],[27.9,2.59],[26.8,2.36],[25.9,2.21],[26,2.02],[26.4,1.88],[28.6,1.79],[30.1,1.79],[29.3,1.89],[28.9,2.06],[28.3,2.19],[28.3,2.38],[29,2.5],[31.9,2.72],[33.5,2.89],[35,3.11],[36,3.18],[37.4,3.16],[39,3.24],[40,3.39],[41.1,3.38],[42.3,3.13],[43.7,2.89],[45.1,2.71],[46,2.54],[47.2,2.42],[48.8,2.35],[49.9,2.4],[50.6,2.52],[51.8,2.83],[53,2.93],[54.3,2.85],[55.1,2.73],[56.9,2.6],[58.3,2.54],[59.5,2.52],[62.2,2.38],[64,2.34],[66,2.22]],
  [[39.3,2.83],[40.2,2.77],[41,2.67],[41.7,2.48],[42.4,2.14]],
  [[22.1,.68],[23.5,.8],[24.3,.7],[22.9,.59],[22,.51]],
  [[17.2,.41],[18.8,.39]],
  [[25,3.3],[24,3.24],[23.3,2.95],[22.9,2.72],[23.8,2.52],[25.1,2.52],[26,2.65],[27.1,2.91],[26.9,3.08],[26.4,3.21],[25,3.3]],
  [[31,2.36],[30.5,2.26],[30.5,2.1],[31.1,2.02],[32.2,2.18],[32,2.28],[31,2.36]],
  [[52.1,2.6],[52.5,2.75],[53,2.78],[54.4,2.67],[56,2.54],[57.6,2.44],[59,2.42],[60.4,2.4],[62.9,2.24],[64,2.22],[66,2.08]],
  [[52.1,2.6],[53.2,2.54],[53.9,2.38],[54.4,2.22],[53.9,2.1]],
  [[54.4,2.22],[54.8,2.16],[55.7,2.06],[57.1,2.02],[59.6,2.03],[61.8,1.96],[64,1.92],[66,1.78]],
  [[56.9,1.94],[59.6,1.96],[61.7,1.84],[64,1.82],[66,1.69]],
  [[54.6,2.44],[54.9,2.46],[56.9,2.38],[58.7,2.31],[60.4,2.21],[59.2,2.14],[58,2.1],[56,2.18],[54.8,2.28],[54.6,2.44]],
  [[43.4,2.14],[42.6,2.54],[42.3,2.71],[43.5,2.73],[44.6,2.61],[45.4,2.46],[46.7,2.38],[48.1,2.32],[49.3,2.24],[49.4,2.04],[48.1,1.84]],
  [[46,2.29],[45.3,2.16],[44.6,2.11],[47,2.06],[47.7,2.11],[47.5,2.24],[46,2.29]],
  [[51.1,1.91],[50,1.94],[49.7,2.04],[50.3,2.32],[52,2.46],[53.2,2.44]],
  [[46,1.91],[46.02,1.91]],
  [[55.1,2],[55.12,2]]
];
// the low-level lines on the left run closer together in panel (d) than in (b)
const black13LowB = [
  [[39.3,2.83],[37.7,2.72],[35.4,2.4],[33.3,2.1],[31.8,1.8],[32.3,1.68],[34,1.61],[32.8,1.38],[32.1,1.29],[31.2,1.23],[28.6,1.12],[25.8,1],[24.6,.92],[23.5,.83],[21.8,.68],[19.5,.53],[17.5,.47],[12.3,.44],[7.7,.52],[3.1,.67],[0,.75]],
  [[0,1.55],[6,1.57],[12.1,1.61],[16.2,1.61],[18.4,1.51],[22,1.52],[24,1.66],[24.9,1.69],[27.9,1.54],[28.6,1.51],[29.2,1.4],[27.7,1.27],[24.9,1.16],[23.5,1.04],[21.6,.83],[19.8,.67],[18.4,.6],[12.3,.61],[9.8,.76],[7.7,.81],[4.4,.93],[0,1.07]],
  [[0,1.9],[9,1.88],[13.2,1.97],[16.3,1.93],[18.9,1.8],[21.8,1.74],[23.5,1.75],[24.9,1.84],[26.9,1.69],[31.1,1.54],[31.8,1.38],[31.2,1.32],[28.2,1.19],[26,1.08],[24,.98],[22.6,.85],[21,.65],[19,.55]],
  [[0,.56],[3.1,.51],[6.4,.41]]
];
const black13LowD = [
  [[39.3,2.83],[37.7,2.72],[35.4,2.4],[33.3,2.1],[31.8,1.8],[32.3,1.68],[34,1.61],[32.8,1.38],[32.1,1.29],[31.2,1.23],[28.6,1.12],[27.1,1.12],[24.4,1],[22.5,.76],[20.2,.52],[17.9,.44],[12,.41],[7.6,.54],[3,.72],[0,.78]],
  [[0,1.55],[6,1.57],[12.1,1.61],[16.2,1.61],[18.4,1.51],[22,1.52],[24,1.66],[24.9,1.69],[27.9,1.54],[28.6,1.51],[29.2,1.4],[27.7,1.27],[24.9,1.16],[23.9,1.04],[22.5,.88],[20.2,.64],[17.9,.56],[12.4,.59],[9.2,.74],[4.8,.88],[0,1.04]],
  [[0,1.9],[9,1.88],[13.2,1.97],[16.3,1.93],[18.9,1.8],[21.8,1.74],[23.5,1.75],[24.9,1.84],[26.9,1.69],[31.1,1.54],[31.8,1.38],[31.2,1.32],[28.2,1.19],[26,1.1],[24.4,1.05],[22.5,.84],[20.2,.58],[17.9,.5],[12,.47],[7.6,.6],[3,.8],[0,.86]],
  [[0,.51],[3,.46],[6.4,.36]]
];
const grey13 = [
  [[2.9,4.56],[4.4,4.49],[6.4,4.41],[7.7,4.52],[9.3,4.84],[12.3,5.14],[14.9,5.31],[16.5,5.28],[18.2,5.05],[20.1,4.87],[21.8,4.94],[23.4,4.73],[25,4.49],[26,4.52],[28,4.8],[29.9,4.86],[31.6,4.75],[33.2,4.4],[35.2,4.03],[36.4,3.94],[37.5,3.99],[38.5,4.12],[40.8,4.31],[41.7,4.68],[42.9,4.86],[44.4,4.56],[46.3,4.31],[48,4.08],[49,3.82],[47,3.61],[43.7,3.45],[42.7,3.29],[42.6,2.93],[43.7,2.5],[44.6,2.22],[43.4,2.1]],
  [[2.8,4.49],[3.7,4.26],[4.7,3.89],[6.4,3.48],[7.7,3.01],[9.6,2.46],[12.9,2.18],[14.2,1.99],[15.1,1.88],[16.8,1.71],[18.8,1.74],[20.8,1.85],[23.4,1.83],[25.4,1.67],[27.3,1.3],[28.6,.97],[30.3,.95],[31.3,1]],
  [[37.5,3.13],[35.2,3.48],[33.2,3.85],[30.9,4.15],[29.6,3.99],[30,3.1],[29.2,2.64],[27.3,2.62],[24.7,3.1],[22.1,3.52],[19.5,3.89],[17.2,4.08],[14.9,4.11],[13.2,3.94],[12.9,3.48],[13.6,2.92],[15.5,2.55],[16.8,2.11],[18.8,2.02],[21.4,2.11],[26,1.83],[28,2.04],[30.6,2.22],[32.6,2.15],[34.5,1.71],[36.4,1.49]],
  [[39.8,2.94],[41,2.83],[41.9,2.5],[42.8,2.1]],
  [[37.7,1.59],[38,1.72],[39.1,1.62]],
  [[0,2.17],[.3,2],[0,1.9]]
];
const greyBlob13 = [[50.7,3.63],[50.9,3.45],[51,3.29]];
const labels13 = [
  ["10", 18.4, 5, 50], ["10", 2.6, 4.4, 60], ["10", 36.7, 3.82, 0], ["10", 47.6, 4.1, 55],
  ["20", 12.9, 3.61, -90], ["20", 26.1, 3.13, 50], ["20", 38.5, 2.99, 50], ["17", 20.8, 2.8, -80],
  ["17", 50.8, 2.66, -60], ["10", 15.1, 1.88, 50], ["23", 57.5, 2.15, 0]
];
const labels13B = [["17", 36.5, 2.57, -60], ["23", 19.5, 1.5, 10], ["23", 9.8, .76, 15]];
const labels13D = [["17", 34, 2.95, -60], ["23", 15.5, 1.58, 10], ["23", 5.8, .84, 15]];

const panels = [
  { left: 293, right: 1581, top: 118, bottom: 1126, fill: omega11Fill, levels: omegaLevels, colors: omegaColors, terrain: terrainUpper, roundFill: false,
    black: black11, grey: grey11, labels: labels11, blob: null, title: "omega", tag: "(a) 11 UTC", lineDy: 0,
    titleBox: [293, 116, 344, 109], titleX: 308, titleLen: 309, titleBase: 196,
    tagBox: [1171, 1019, 410, 107], tagX: 1198, tagLen: 363, tagBase: 1101, yLabelX: 73, yLabelY: 622, yNudge: 0, yPad: 29,
    tickX: [[198, 1205, 1270], [611, 1215, 1268], [1056, 1216, 1283], [1468, 1216, 1280]] },
  { left: 1913, right: 3202, top: 118, bottom: 1126, fill: omega13Fill, levels: omegaLevels, colors: omegaColors, terrain: terrainUpper, roundFill: false,
    black: black13.concat(black13LowB), grey: grey13, labels: labels13.concat(labels13B), blob: greyBlob13, title: "omega", tag: "(b) 13 UTC", lineDy: 0,
    titleBox: [1913, 121, 343, 108], titleX: 1924, titleLen: 311, titleBase: 198,
    tagBox: [2796, 1019, 406, 106], tagX: 2805, tagLen: 371, tagBase: 1101, yLabelX: 1682, yLabelY: 622, yNudge: 0, yPad: 39,
    tickX: [[1806, 1204, 1262], [2219, 1212, 1266], [2664, 1212, 1280], [3074, 1212, 1280]] },
  { left: 293, right: 1571, top: 1305, bottom: 2305, fill: theta11Fill, levels: thetaLevels, colors: thetaColors, terrain: terrainLower, roundFill: true,
    black: black11, grey: grey11, labels: labels11, blob: null, title: "theta", tag: "(c) 11 UTC", lineDy: -13,
    titleBox: [293, 1309, 365, 108], titleX: 301, titleLen: 322, titleBase: 1388,
    tagBox: [1184, 2196, 387, 109], tagX: 1193, tagLen: 359, tagBase: 2277, yLabelX: 78, yLabelY: 1736, yNudge: 10, yPad: 46,
    tickX: [[162, 2401, 2455], [606, 2402, 2458], [1038, 2397, 2453], [1429, 2393, 2445]] },
  { left: 1910, right: 3188, top: 1307, bottom: 2306, fill: theta13Fill, levels: thetaLevels, colors: thetaColors, terrain: terrainLower, roundFill: true,
    black: black13.concat(black13LowD), grey: grey13, labels: labels13.concat(labels13D), blob: greyBlob13, title: "theta", tag: "(d) 13 UTC", lineDy: -13,
    titleBox: [1911, 1308, 379, 109], titleX: 1925, titleLen: 322, titleBase: 1388,
    tagBox: [2781, 2196, 406, 109], tagX: 2796, tagLen: 370, tagBase: 2277, yLabelX: 1691, yLabelY: 1735, yNudge: 6, yPad: 19,
    tickX: [[1804, 2395, 2450], [2248, 2399, 2454], [2680, 2391, 2446], [3071, 2387, 2442]] }
];

const colorbars = [
  { x: 3288, w: 70, levels: omegaLevels, colors: omegaColors, labels: omegaLabels,
    edges: [1120, 1021, 920, 819, 718, 616, 515, 414, 313, 212, 111],
    pos: [[3418, 1018], [3443, 920], [3438, 819], [3443, 717], [3445, 609], [3445, 507], [3448, 406], [3445, 313], [3443, 209]] },
  { x: 3289, w: 69, levels: thetaLevels, colors: thetaColors, labels: thetaLabels,
    edges: [2301, 2191, 2079, 1968, 1856, 1746, 1634, 1523, 1412, 1300],
    pos: [[3430, 2184], [3461, 2073], [3484, 1974], [3469, 1860], [3448, 1746], [3467, 1638], [3452, 1510], [3465, 1408]] }
];

const svg = d3.select("#chart");

panels.forEach((p, i) => {
  const x = d3.scaleLinear().domain([0, 66]).range([p.left, p.right]);
  const y = d3.scaleLinear().domain([0, 6]).range([p.bottom, p.top]);
  const g = svg.append("g");

  svg.append("clipPath").attr("id", "clip" + i)
    .append("rect").attr("x", p.left).attr("y", p.top)
    .attr("width", p.right - p.left).attr("height", p.bottom - p.top);

  const color = d3.scaleThreshold().domain(p.levels).range(p.colors);
  const poly = d3.line().x(d => x(d[0])).y(d => y(d[1]))
    .curve(p.roundFill ? d3.curveCatmullRomClosed.alpha(0.5) : d3.curveLinearClosed);
  const smooth = d3.line().x(d => x(d[0])).y(d => y(d[1])).curve(d3.curveCatmullRom.alpha(0.5));

  const plot = g.append("g").attr("clip-path", `url(#clip${i})`);

  plot.append("g").selectAll("path").data(p.fill).join("path")
    .attr("d", d => poly(d[1]))
    .attr("fill", d => color(d[0]));

  // terrain is a step column per grid point
  const cols = p.terrain.concat([p.terrain[p.terrain.length - 1]]);
  plot.append("path").datum(cols)
    .attr("fill", "#808080")
    .attr("d", d3.area().x((d, k) => x(k)).y0(y(0)).y1(d => y(d)).curve(d3.curveStepAfter));

  // in the lower row the line overlay sits a little higher than in the upper row
  const over = plot.append("g").attr("transform", `translate(0,${p.lineDy})`);

  over.append("g").selectAll("path").data(p.black).join("path")
    .attr("d", smooth).attr("fill", "none").attr("stroke", "#000")
    .attr("stroke-width", 10).attr("stroke-linejoin", "round").attr("stroke-linecap", "round");

  over.append("g").selectAll("path").data(p.grey).join("path")
    .attr("d", smooth).attr("fill", "none").attr("stroke", "#bdbdbd")
    .attr("stroke-width", 10.5).attr("stroke-linejoin", "round").attr("stroke-linecap", "round");

  if (p.blob) {
    over.append("path").datum(p.blob).attr("d", smooth).attr("fill", "none")
      .attr("stroke", "#bdbdbd").attr("stroke-width", 15).attr("stroke-linecap", "round");
  }

  const lab = over.append("g").selectAll("g").data(p.labels).join("g")
    .attr("transform", d => `translate(${x(d[1])},${y(d[2])}) rotate(${d[3]})`);
  lab.append("rect").attr("x", -29).attr("y", -22).attr("width", 58).attr("height", 44).attr("fill", "#fff");
  lab.append("text").attr("text-anchor", "middle").attr("y", 14)
    .attr("font-family", "Open Sans").attr("font-size", 40).attr("fill", "#111")
    .text(d => d[0]);

  // frame and axes
  g.append("rect").attr("x", p.left).attr("y", p.top)
    .attr("width", p.right - p.left).attr("height", p.bottom - p.top)
    .attr("fill", "none").attr("stroke", "#000").attr("stroke-width", 3);

  const yAxis = g.append("g").attr("transform", `translate(${p.left},0)`)
    .call(d3.axisLeft(y).tickValues(yTicks).tickSize(24).tickPadding(p.yPad).tickFormat(d3.format("d")));
  yAxis.select(".domain").remove();
  yAxis.selectAll("line").attr("stroke-width", 3);
  yAxis.selectAll("text").attr("font-family", "Liberation Sans").attr("font-size", 58)
    .attr("fill", "#000").attr("dy", null).attr("y", 20 + p.yNudge);

  const xAxis = g.append("g").attr("transform", `translate(0,${p.bottom})`)
    .call(d3.axisBottom(x).tickValues(xTickCols).tickSize(24).tickFormat(""));
  xAxis.select(".domain").remove();
  xAxis.selectAll("line").attr("stroke-width", 3);

  // lon and lat share one text element, two lines
  xTickCols.forEach((c, k) => {
    const t = p.tickX[k];
    const tick = g.append("text").attr("font-family", "Liberation Sans").attr("font-size", 58);
    tick.append("tspan").attr("x", t[0]).attr("y", t[1]).text(xTickLon[k]);
    tick.append("tspan").attr("x", t[0]).attr("y", t[2]).text(xTickLat[k]);
  });

  g.append("text").text("Height ASL (km)")
    .attr("transform", `translate(${p.yLabelX + 26},${p.yLabelY}) rotate(-90)`)
    .attr("text-anchor", "middle").attr("font-family", "Liberation Sans").attr("font-size", 76);

  // title and time boxes sit on top of the plot
  const tb = p.titleBox;
  g.append("rect").attr("x", tb[0]).attr("y", tb[1]).attr("width", tb[2]).attr("height", tb[3])
    .attr("fill", "#fff").attr("stroke", "#000").attr("stroke-width", 4);
  const title = g.append("text").attr("x", p.titleX).attr("y", p.titleBase)
    .attr("font-family", "Open Sans").attr("font-size", 88).attr("fill", "#111")
    .attr("textLength", p.titleLen).attr("lengthAdjust", "spacingAndGlyphs");
  if (p.title === "omega") {
    title.text("\u2202\u03c9/\u2202x\u2202y");
  } else {
    title.append("tspan").text("\u2202");
    title.append("tspan").text("\u03b8").attr("font-family", "Liberation Serif").attr("font-weight", "bold").attr("font-style", "italic");
    title.append("tspan").text("e").attr("font-family", "Liberation Serif").attr("font-weight", "bold").attr("font-style", "italic").attr("font-size", 62);
    title.append("tspan").text("/\u2202x\u2202y");
  }

  const ob = p.tagBox;
  g.append("rect").attr("x", ob[0]).attr("y", ob[1]).attr("width", ob[2]).attr("height", ob[3])
    .attr("fill", "#fff").attr("stroke", "#000").attr("stroke-width", 4);
  g.append("text").attr("x", p.tagX).attr("y", p.tagBase).text(p.tag)
    .attr("font-family", "Open Sans").attr("font-size", 82).attr("fill", "#111")
    .attr("textLength", p.tagLen).attr("lengthAdjust", "spacingAndGlyphs");
});

colorbars.forEach(cb => {
  const g = svg.append("g");
  cb.colors.forEach((c, k) => {
    g.append("rect").attr("x", cb.x).attr("y", cb.edges[k + 1]).attr("width", cb.w)
      .attr("height", cb.edges[k] - cb.edges[k + 1]).attr("fill", c)
      .attr("stroke", k === 0 ? "#888" : "#333").attr("stroke-width", 1.5);
  });
  cb.labels.forEach((t, k) => {
    g.append("text").text(t).attr("x", cb.pos[k][0]).attr("y", cb.pos[k][1] + 20)
      .attr("text-anchor", "middle").attr("font-family", "Open Sans").attr("font-size", 56).attr("fill", "#111");
  });
});

function unit(x, yy, t, size) {
  svg.append("text").attr("x", x).attr("y", yy).text(t)
    .attr("font-family", "Open Sans").attr("font-size", size).attr("fill", "#222");
}
unit(3368, 157, "(", 48); unit(3393, 157, "m", 44); unit(3437, 120, "-1", 32);
unit(3467, 157, "hPa", 42); unit(3544, 118, "-1", 32); unit(3573, 157, ")", 48);
unit(3391, 1345, "(", 48); unit(3426, 1345, "K", 44); unit(3471, 1345, "km", 42);
unit(3538, 1317, "-1", 32); unit(3566, 1345, ")", 48);
</script>
</body>
</html>
